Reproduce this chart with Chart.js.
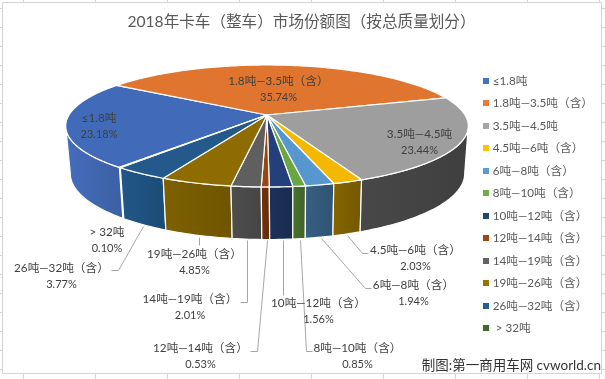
<!DOCTYPE html>
<html><head><meta charset="utf-8">
<style>
html,body{margin:0;padding:0;background:#fff;width:605px;height:379px;overflow:hidden}
#grid{position:absolute;left:0;top:0;width:605px;height:379px;
background-color:#fff;
background-image:
linear-gradient(to right,#d4d4d4 1px,transparent 1px),
linear-gradient(to bottom,#d4d4d4 1px,transparent 1px);
background-size:72px 379px,605px 19px;background-position:23px 0,0 8px}
#box{position:absolute;left:2px;top:2px;width:598px;height:370px;background:#fff;border:1px solid #d6d6d6}
canvas{position:absolute;left:0;top:0}
</style>
<script src="https://cdn.jsdelivr.net/npm/chart.js@4"></script>
</head><body>
<div id="grid"></div><div id="box"></div>
<canvas id="c" width="605" height="379"></canvas>
<script>
const categories=['≤1.8吨','1.8吨—3.5吨（含）','3.5吨—4.5吨','4.5吨—6吨（含）','6吨—8吨（含）','8吨—10吨（含）','10吨—12吨（含）','12吨—14吨（含）','14吨—19吨（含）','19吨—26吨（含）','26吨—32吨（含）','> 32吨'];
const shares=[23.18,35.74,23.44,2.03,1.94,0.85,1.56,0.53,2.01,4.85,3.77,0.10];
const legendColors=['#4472C4','#ED7D31','#A5A5A5','#FFC000','#5B9BD5','#70AD47','#264478','#9E480E','#636363','#997300','#255E91','#43682B'];
const topColors=['#416AB8','#E0752F','#9E9E9E','#F5B800','#5797D0','#6AA644','#24407A','#9B460E','#5F5F5F','#8E6C00','#235A8B','#40632A'];
const wallColors=['#4067B0','#1E5280','#775B00','#4A4A4A','#6B300C','#1B2E55','#456B2A','#335A7C','#7D5F00','#444444'];
const wallOrder=[0,10,9,8,7,6,5,4,3,2];

// projection of the pie disc: top face and bottom face
const topFace={cx:267,cy:115,rx:198,ry:59,k:0.18};
const bottomFace={cx:267.5,cy:161.5,rx:194,ry:64,k:0.18};

// label placement: centre x, first line y, second line y, leader polyline
const labelPlacement=[
 {x:99,y:118,y2:134},
 {x:278.5,y:81,y2:97},
 {x:419.5,y:134,y2:150},
 {x:415.5,y:250,y2:266,line:[[347,235],[362,253],[368,253]]},
 {x:413.5,y:285,y2:301,line:[[321,238],[365,288],[371,288]]},
 {x:357.5,y:348,y2:364,line:[[300,240],[306,351],[312,351]]},
 {x:318.5,y:303,y2:319,line:[[283,240],[283,295]]},
 {x:200.5,y:348,y2:364,line:[[267,240],[257,351],[250,351]]},
 {x:190,y:299,y2:315,line:[[247,240],[247,302],[240,302]]},
 {x:194.5,y:254,y2:270,line:[[199,237],[199,245]]},
 {x:61.5,y:268,y2:284,line:[[143,226],[118,270],[111,270]]},
 {x:107,y:232,y2:248}
];
const FONT='Lato,"Noto Sans CJK SC",sans-serif';

function project(f,a){
  const x=Math.cos(a),y=Math.sin(a),w=1-f.k*y;
  return [f.cx+f.rx*x/w,f.cy+f.ry*y/w];
}
function arcPts(f,a0,a1){
  const n=Math.max(2,Math.ceil(Math.abs(a1-a0)/0.02)),p=[];
  for(let i=0;i<=n;i++)p.push(project(f,a0+(a1-a0)*i/n));
  return p;
}
function shade(hex,m){
  const n=parseInt(hex.slice(1),16);
  const c=[n>>16,(n>>8)&255,n&255].map(v=>Math.min(255,Math.round(v*m)));
  return `rgb(${c[0]},${c[1]},${c[2]})`;
}
function marker(color){
  const m=document.createElement('canvas');m.width=6;m.height=6;
  const g=m.getContext('2d');g.fillStyle=color;g.fillRect(0,0,6,6);return m;
}
const perspectivePie={
  id:'perspectivePie',
  afterLayout(chart){
    chart.legend.top+=9.5;chart.legend.bottom+=9.5;
  },
  beforeDatasetsDraw(chart){
    const ctx=chart.ctx,arcs=chart.getDatasetMeta(0).data;
    const norm=a=>{const t=Math.PI*2;return((a%t)+t)%t};
    const fl=Math.asin(topFace.k),lo=fl,hi=Math.PI-fl;
    ctx.save();
    // walls
    ctx.lineJoin='round';
    wallOrder.forEach((idx,j)=>{
      const e=arcs[idx];
      let s=norm(e.startAngle),d=e.endAngle-e.startAngle;
      let t=s+d;
      const segs=[[s,t],[s-Math.PI*2,t-Math.PI*2]];
      segs.forEach(([a,b])=>{
        const a0=Math.max(a,lo),a1=Math.min(b,hi);
        if(a1<=a0)return;
        const up=arcPts(topFace,a0,a1),dn=arcPts(bottomFace,a0,a1).reverse();
        const xs=up.concat(dn).map(p=>p[0]);
        const g=ctx.createLinearGradient(Math.min(...xs),0,Math.max(...xs),0);
        g.addColorStop(0,shade(wallColors[j],1.06));
        g.addColorStop(1,shade(wallColors[j],0.93));
        ctx.beginPath();
        up.concat(dn).forEach((p,i)=>i?ctx.lineTo(p[0],p[1]):ctx.moveTo(p[0],p[1]));
        ctx.closePath();
        ctx.fillStyle=g;ctx.fill();
        ctx.strokeStyle='#fff';ctx.lineWidth=1.2;ctx.stroke();
      });
    });
    // top face
    arcs.forEach((e,i)=>{
      const pts=arcPts(topFace,e.startAngle,e.endAngle);
      ctx.beginPath();ctx.moveTo(topFace.cx,topFace.cy);
      pts.forEach(p=>ctx.lineTo(p[0],p[1]));
      ctx.closePath();
      ctx.fillStyle=topColors[i];ctx.fill();
      ctx.strokeStyle='#fff';ctx.lineWidth=1.2;ctx.stroke();
    });
    // leaders
    ctx.strokeStyle='#a6a6a6';ctx.lineWidth=1;
    labelPlacement.forEach(l=>{
      if(!l.line)return;
      ctx.beginPath();
      l.line.forEach((p,i)=>i?ctx.lineTo(p[0]+.5,p[1]+.5):ctx.moveTo(p[0]+.5,p[1]+.5));
      ctx.stroke();
    });
    // labels
    ctx.textAlign='center';ctx.textBaseline='middle';ctx.fillStyle='#404040';
    labelPlacement.forEach((l,i)=>{
      ctx.font='11.7px '+FONT;
      ctx.fillText(categories[i],l.x,l.y);
      ctx.font='11px '+FONT;
      ctx.fillText(shares[i].toFixed(2)+'%',l.x,l.y2);
    });
    // credit
    ctx.font='13.5px '+FONT;ctx.textAlign='right';ctx.fillStyle='#333';
    ctx.fillText('制图:第一商用车网 cvworld.cn',601,366);
    ctx.restore();
    return false;
  }
};
new Chart(document.getElementById('c'),{
  type:'pie',
  data:{labels:categories.map((c,i)=>i===11?' '+c:c),datasets:[{data:shares,backgroundColor:legendColors,borderWidth:0}]},
  options:{
    responsive:false,animation:false,devicePixelRatio:1,rotation:220,
    layout:{padding:{top:11,right:2,bottom:0,left:0}},
    plugins:{
      tooltip:{enabled:false},
      title:{display:true,text:'2018年卡车（整车）市场份额图（按总质量划分）',color:'#595959',
        font:{family:FONT,size:15.6,weight:'normal'},padding:{top:2,bottom:8}},
      legend:{position:'right',
        labels:{usePointStyle:true,boxWidth:2.5,boxHeight:6,padding:10.8,color:'#595959',
          font:{family:FONT,size:11.7},
          generateLabels(chart){return chart.data.labels.map((t,i)=>({text:t,fontColor:'#595959',pointStyle:marker(legendColors[i]),fillStyle:legendColors[i],strokeStyle:legendColors[i],lineWidth:0,hidden:false,index:i}));}
        }}
    }
  },
  plugins:[perspectivePie]
});
</script>
</body></html>
